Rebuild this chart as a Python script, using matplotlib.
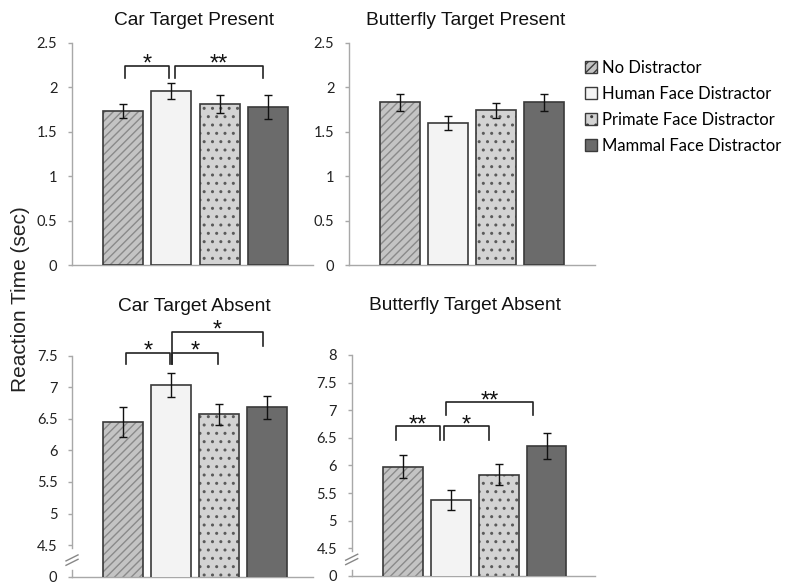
import matplotlib
matplotlib.use("Agg")
import matplotlib.pyplot as plt
import matplotlib.transforms as mtransforms
from matplotlib.patches import Patch
import numpy as np

# conditions (legend order)
conditions = ["No Distractor", "Human Face Distractor",
              "Primate Face Distractor", "Mammal Face Distractor"]

# mean reaction times (sec) and error bars
car_present = [1.73, 1.96, 1.81, 1.78]
car_present_err = [0.08, 0.09, 0.10, 0.14]
bfly_present = [1.83, 1.60, 1.74, 1.83]
bfly_present_err = [0.10, 0.08, 0.08, 0.10]
car_absent = [6.45, 7.03, 6.57, 6.68]
car_absent_err = [0.24, 0.19, 0.17, 0.18]
bfly_absent = [5.98, 5.38, 5.83, 6.35]
bfly_absent_err = [0.21, 0.18, 0.19, 0.23]

# significance brackets: (x left, x right, top, left leg bottom, right leg bottom, label)
car_present_sig = [(0.04, 0.96, 2.24, 2.11, 2.11, "*"),
                   (1.08, 2.90, 2.24, 2.11, 2.11, "**")]
car_absent_sig = [(0.06, 0.98, 7.54, 7.37, 7.37, "*"),
                  (1.02, 1.99, 7.54, 7.37, 7.37, "*"),
                  (1.02, 2.92, 7.875, 7.37, 7.65, "*")]
bfly_absent_sig = [(-0.15, 0.78, 6.71, 6.47, 6.47, "**"),
                   (0.86, 1.80, 6.71, 6.47, 6.47, "*"),
                   (0.90, 2.71, 7.14, 6.92, 6.92, "**")]

fills = ["#c4c4c4", "#f3f3f3", "#d3d3d3", "#6b6b6b"]
hatches = ["////", None, "..", None]
hatch_cols = ["#8a8a8a", None, "#5a5a5a", None]
edge = "#3a3a3a"
spine_col = "#a8a8a8"

title_font = "Liberation Sans"
tick_font = "Lato"

fig = plt.figure(figsize=(7.93, 5.85), dpi=100)


def draw_bars(ax, vals, errs):
    x = np.arange(len(vals))
    w = 0.83
    for i in range(len(vals)):
        if hatches[i]:
            ax.bar(x[i], vals[i], w, color=fills[i], edgecolor=hatch_cols[i],
                   hatch=hatches[i], linewidth=0, zorder=2)
            ax.bar(x[i], vals[i], w, fill=False, edgecolor=edge,
                   linewidth=1.2, zorder=3)
        else:
            ax.bar(x[i], vals[i], w, color=fills[i], edgecolor=edge,
                   linewidth=1.2, zorder=3)
    ax.errorbar(x, vals, yerr=errs, fmt="none", ecolor="#111111",
                elinewidth=1.0, capsize=3, capthick=1.0, zorder=4)


def style_axes(ax, ylim, ticks, labels, xlim):
    ax.set_xlim(*xlim)
    ax.set_ylim(*ylim)
    ax.set_yticks(ticks)
    ax.set_yticklabels(labels)
    ax.set_xticks([])
    for s in ["top", "right"]:
        ax.spines[s].set_visible(False)
    for s in ["left", "bottom"]:
        ax.spines[s].set_color(spine_col)
        ax.spines[s].set_linewidth(1.0)
    ax.tick_params(axis="y", length=3, width=1.0, color=spine_col, pad=7.5,
                   labelsize=10.5, labelcolor="#222222")
    for lab in ax.get_yticklabels():
        lab.set_fontfamily(tick_font)


def draw_sig(ax, sig):
    for x0, x1, top, lb, rb, lab in sig:
        ax.plot([x0, x0, x1, x1], [lb, top, top, rb], color="#222222",
                lw=1.2, clip_on=False, zorder=5)
        ax.annotate(lab, ((x0 + x1) / 2, top), xytext=(0, -3.5),
                    textcoords="offset points", ha="center", va="baseline",
                    fontsize=17, family=title_font, color="#111111",
                    annotation_clip=False)


def axis_break(ax, base, gap_top):
    # interrupted y axis with a double slash between 0 and the first tick
    ax.spines["left"].set_bounds(gap_top, ax.get_ylim()[1])
    tr = mtransforms.blended_transform_factory(ax.transAxes, ax.transData)
    ax.plot([0, 0], [base, base + 0.1], transform=tr, color=spine_col,
            lw=1.0, clip_on=False)
    bb = ax.get_position()
    fw, fh = fig.get_size_inches() * fig.dpi
    dx = 6 / (bb.width * fw)
    dy = 3 / (bb.height * fh)
    for yc in (0.085, 0.065):
        ax.plot([-dx, dx], [yc - dy, yc + dy], transform=ax.transAxes,
                color="#888888", lw=1.0, clip_on=False)


ax1 = fig.add_axes([0.0908, 0.5470, 0.3039, 0.3795])
draw_bars(ax1, car_present, car_present_err)
style_axes(ax1, (0, 2.5), [0, 0.5, 1, 1.5, 2, 2.5],
           ["0", "0.5", "1", "1.5", "2", "2.5"], (-1.056, 3.93))
draw_sig(ax1, car_present_sig)

ax2 = fig.add_axes([0.4401, 0.5470, 0.3102, 0.3795])
draw_bars(ax2, bfly_present, bfly_present_err)
style_axes(ax2, (0, 2.5), [0, 0.5, 1, 1.5, 2, 2.5],
           ["0", "0.5", "1", "1.5", "2", "2.5"], (-1.05, 4.06))

ax3 = fig.add_axes([0.0908, 0.0142, 0.3039, 0.3778])
draw_bars(ax3, car_absent, car_absent_err)
style_axes(ax3, (4.0, 7.5), [4.0, 4.5, 5, 5.5, 6, 6.5, 7, 7.5],
           ["0", "4.5", "5", "5.5", "6", "6.5", "7", "7.5"], (-1.06, 3.96))
draw_sig(ax3, car_absent_sig)
axis_break(ax3, 4.0, 4.45)

ax4 = fig.add_axes([0.4435, 0.0154, 0.3068, 0.3778])
draw_bars(ax4, bfly_absent, bfly_absent_err)
style_axes(ax4, (4.0, 8.0), [4.0, 4.5, 5, 5.5, 6, 6.5, 7, 7.5, 8],
           ["0", "4.5", "5", "5.5", "6", "6.5", "7", "7.5", "8"], (-1.07, 4.01))
draw_sig(ax4, bfly_absent_sig)
axis_break(ax4, 4.0, 4.45)

# panel titles
for tx, ty, txt in [(0.2446, 0.9658, "Car Target Present"),
                    (0.5876, 0.9658, "Butterfly Target Present"),
                    (0.2446, 0.4769, "Car Target Absent"),
                    (0.5864, 0.4786, "Butterfly Target Absent")]:
    fig.text(tx, ty, txt, ha="center", va="center", fontsize=13.8,
             family=title_font, color="#111111")

fig.text(0.026, 0.489, "Reaction Time (sec)", rotation=90, ha="center",
         va="center", fontsize=15, family=title_font, color="#222222")

handles = []
for i in range(len(conditions)):
    handles.append(Patch(facecolor=fills[i], edgecolor=edge, linewidth=1.0,
                         hatch=hatches[i]))
leg = fig.legend(handles, conditions, loc="upper left",
                 bbox_to_anchor=(0.7185, 0.923), frameon=False,
                 handlelength=0.75, handleheight=0.75, handletextpad=0.3,
                 labelspacing=0.6, prop={"family": tick_font, "size": 12})

fig.savefig("out.png", dpi=100)
